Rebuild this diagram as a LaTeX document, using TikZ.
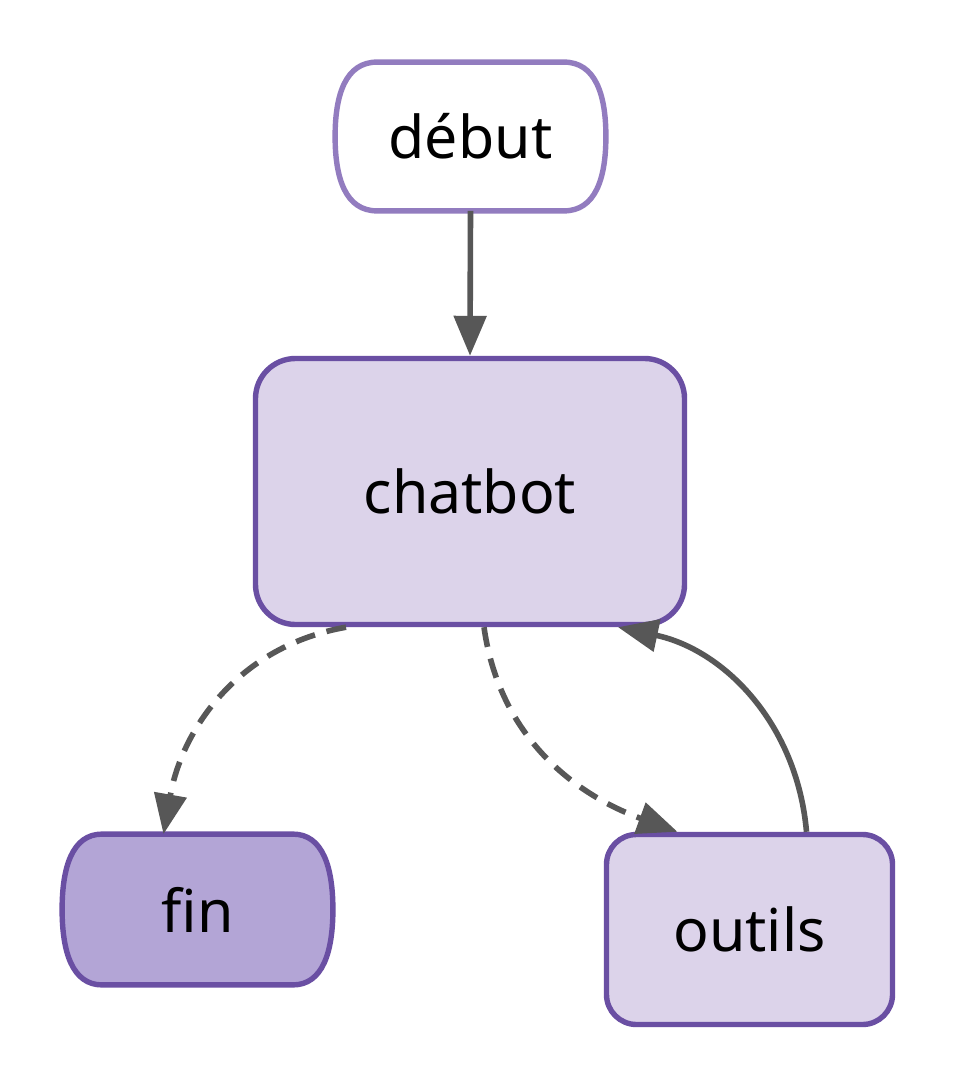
\documentclass[tikz,border=0pt]{standalone}
\usepackage{fontspec}
\setmainfont{Noto Sans}
\usetikzlibrary{arrows.meta,calc}
\definecolor{edgegray}{HTML}{575757}
\definecolor{lightborder}{HTML}{927CBF}
\definecolor{darkborder}{HTML}{6A4FA3}
\definecolor{lightfill}{HTML}{DCD3EA}
\definecolor{darkfill}{HTML}{B3A5D6}
\pgfdeclarelayer{back}
\pgfdeclarelayer{bg}
\pgfsetlayers{back,bg,main}
\tikzset{
  lbl/.style={font=\fontsize{29.5}{35}\selectfont, text=black, inner sep=0pt},
  roundbox/.style={lbl, draw=darkborder, fill=lightfill, line width=2.7pt, rounded corners=#1},
  stadium/.style={lbl},
  edge/.style={draw=edgegray, line width=2.8pt, -{Triangle[length=20pt,width=16pt]}},
  dashedge/.style={edge, dash pattern=on 10pt off 6pt},
}
\newcommand{\stadiumpath}[4]{% name, inset, draw, fill
  \begin{pgfonlayer}{bg}
  \draw[draw=#3, fill=#4, line width=2.7pt]
    ($(#1.north west)+(#2,0)$) -- ($(#1.north east)+(-#2,0)$)
    .. controls +(0.75*#2,0) and +(0,-42) .. (#1.east)
    .. controls +(0,42) and +(0.75*#2,0) .. ($(#1.south east)+(-#2,0)$)
    -- ($(#1.south west)+(#2,0)$)
    .. controls +(-0.75*#2,0) and +(0,42) .. (#1.west)
    .. controls +(0,-42) and +(-0.75*#2,0) .. cycle;
  \end{pgfonlayer}}
\begin{document}
\begin{tikzpicture}[x=0.5pt,y=-0.5pt]
\begin{pgfonlayer}{back}
\fill[white] (0,0) rectangle (960,1090);
\end{pgfonlayer}
\useasboundingbox (0,0) rectangle (960,1090);
% nodes
\node[stadium, minimum width=135pt, minimum height=74pt] (debut) at (470.5,136.5) {début};
\stadiumpath{debut}{42}{lightborder}{white}
\node[roundbox=20pt, minimum width=214.5pt, minimum height=133pt] (chatbot) at (470,491.5) {chatbot};
\node[stadium, minimum width=135pt, minimum height=75pt] (fin) at (197.5,909.5) {fin};
\stadiumpath{fin}{40}{darkborder}{darkfill}
\node[roundbox=15pt, minimum width=143pt, minimum height=95pt] (outils) at (749.5,929.5) {outils};
% edges
\draw[edge] (debut.south) -- (chatbot.north);
\draw[dashedge] ($(chatbot.south)+(-124,0)$) to[out=190,in=80] ($(fin.north)+(-34,0)$);
\draw[dashedge] ($(chatbot.south)+(14,0)$) to[out=-82,in=160] ($(outils.north)+(-72,0)$);
\draw[edge] ($(outils.north)+(57,0)$) to[out=95,in=-12] ($(chatbot.south)+(148,0)$);
\end{tikzpicture}
\end{document}
